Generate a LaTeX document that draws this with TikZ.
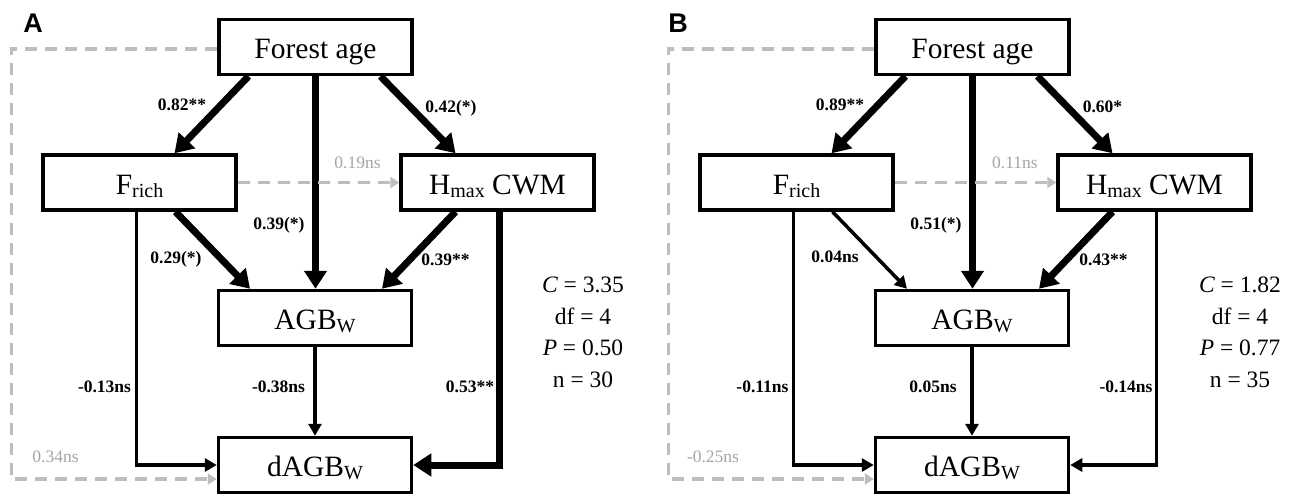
\documentclass[tikz,border=0pt]{standalone}
\usepackage{fontspec}
\setmainfont{Liberation Serif}
\newfontfamily\panelfont{Liberation Sans}
\usetikzlibrary{arrows.meta}
\definecolor{dashgray}{RGB}{190,190,190}
\definecolor{labgray}{RGB}{165,165,165}
\newcommand\sbs[1]{\raisebox{-3pt}{\fontsize{20}{20}\selectfont #1}}
\begin{document}
\begin{tikzpicture}[x=1pt,y=-1pt,
 box/.style={draw, line width=3.5pt, minimum width=193pt, minimum height=55pt, inner sep=0pt, fill=white, text height=23pt, text depth=0pt, font=\fontsize{29.5}{29.5}\selectfont},
 thickarr/.style={line width=7pt, -{Triangle[length=18pt,width=22pt]}},
 thinarr/.style={line width=3.5pt, -{Triangle[length=12pt,width=13pt]}},
 dasharr/.style={line width=3.5pt, dashgray, dash pattern=on 12pt off 8pt, -{Triangle[length=9pt,width=11pt]}},
 lab/.style={font=\fontsize{17.5}{17.5}\selectfont\bfseries, inner sep=1pt, text height=12pt, text depth=0pt},
 glab/.style={font=\fontsize{17.5}{17.5}\selectfont, text=labgray, inner sep=1pt, text height=12pt, text depth=0pt},
 stat/.style={font=\fontsize{23.5}{23.5}\selectfont, inner sep=0pt, text height=15pt, text depth=0pt},
 plab/.style={font=\fontsize{27}{27}\selectfont\panelfont\bfseries, inner sep=0pt}
]
\useasboundingbox (0,0) rectangle (1291,493);
\fill[white] (0,0) rectangle (1291,493);

% ---------- Panel A ----------
\node[plab] (pA) at (33,23) {A};
\node[box] (afa) at (315.5,47) {Forest age};
\node[box] (afr) at (139.5,182.5) {F\sbs{rich}};
\node[box] (ahm) at (497.5,182.5) {H\sbs{max} CWM};
\node[box] (aag) at (315,318) {AGB\sbs{W}};
\node[box] (adg) at (315,465) {dAGB\sbs{W}};

\draw[thickarr] ([xshift=-67pt]afa.south) -- ([xshift=35pt]afr.north);
\draw[thickarr] (afa.south) -- (afa.south |- aag.north);
\draw[thickarr] ([xshift=65pt]afa.south) -- ([xshift=-42pt]ahm.north);
\draw[dasharr] (afr.east) -- (ahm.west);
\draw[thickarr] ([xshift=36pt]afr.south) -- ([xshift=-65pt]aag.north);
\draw[thickarr] ([xshift=-42pt]ahm.south) -- ([xshift=67pt]aag.north);
\draw[thinarr] ([xshift=-3pt]afr.south) |- (adg.west);
\draw[thinarr] (aag.south) -- (adg.north);
\draw[thickarr] ([xshift=2pt]ahm.south) |- (adg.east);
\draw[dasharr] ([yshift=-2pt]afa.west) -- ++(-206,0) |- ([yshift=-14pt]adg.west);

\node[lab] (la1) at (182,104) {0.82**};
\node[lab] (la2) at (279,223) {0.39(*)};
\node[lab] (la3) at (451,106) {0.42(*)};
\node[glab] (la4) at (357.5,162) {0.19ns};
\node[lab] (la5) at (176,257) {0.29(*)};
\node[lab] (la6) at (445.5,259) {0.39**};
\node[lab] (la7) at (104.5,386) {-0.13ns};
\node[lab] (la8) at (278.5,386) {-0.38ns};
\node[lab] (la9) at (470,386) {0.53**};
\node[glab] (la10) at (55.5,456.5) {0.34ns};

\node[stat] (as1) at (583,284.5) {{\itshape C} = 3.35};
\node[stat] (as2) at (583,316.5) {df = 4};
\node[stat] (as3) at (583,347.5) {{\itshape P} = 0.50};
\node[stat] (as4) at (583,380) {n = 30};

% ---------- Panel B ----------
\begin{scope}[xshift=657pt]
\node[plab] (pB) at (21,23) {B};
\node[box] (bfa) at (315.5,47) {Forest age};
\node[box] (bfr) at (139.5,182.5) {F\sbs{rich}};
\node[box] (bhm) at (497.5,182.5) {H\sbs{max} CWM};
\node[box] (bag) at (315,318) {AGB\sbs{W}};
\node[box] (bdg) at (315,465) {dAGB\sbs{W}};

\draw[thickarr] ([xshift=-67pt]bfa.south) -- ([xshift=35pt]bfr.north);
\draw[thickarr] (bfa.south) -- (bfa.south |- bag.north);
\draw[thickarr] ([xshift=65pt]bfa.south) -- ([xshift=-42pt]bhm.north);
\draw[dasharr] (bfr.east) -- (bhm.west);
\draw[thinarr] ([xshift=36pt]bfr.south) -- ([xshift=-65pt]bag.north);
\draw[thickarr] ([xshift=-42pt]bhm.south) -- ([xshift=67pt]bag.north);
\draw[thinarr] ([xshift=-3pt]bfr.south) |- (bdg.west);
\draw[thinarr] (bag.south) -- (bdg.north);
\draw[thinarr] ([xshift=2pt]bhm.south) |- (bdg.east);
\draw[dasharr] ([yshift=-2pt]bfa.west) -- ++(-206,0) |- ([yshift=-14pt]bdg.west);

\node[lab] (lb1) at (183,104) {0.89**};
\node[lab] (lb2) at (279,223) {0.51(*)};
\node[lab] (lb3) at (445.5,106) {0.60*};
\node[glab] (lb4) at (358,162) {0.11ns};
\node[lab] (lb5) at (178,256) {0.04ns};
\node[lab] (lb6) at (446.5,259) {0.43**};
\node[lab] (lb7) at (105.5,386) {-0.11ns};
\node[lab] (lb8) at (276,386) {0.05ns};
\node[lab] (lb9) at (469,386) {-0.14ns};
\node[glab] (lb10) at (56,456.5) {-0.25ns};

\node[stat] (bs1) at (583,284.5) {{\itshape C} = 1.82};
\node[stat] (bs2) at (583,316.5) {df = 4};
\node[stat] (bs3) at (583,347.5) {{\itshape P} = 0.77};
\node[stat] (bs4) at (583,380) {n = 35};
\end{scope}
\end{tikzpicture}
\end{document}
